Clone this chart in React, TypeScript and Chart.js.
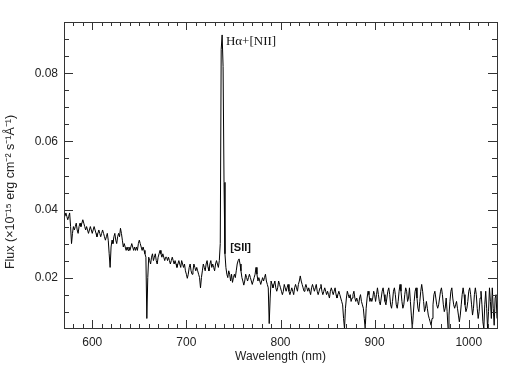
import React, { useEffect, useRef } from "react";
import { Chart, registerables } from "chart.js";

Chart.register(...registerables);

// Wavelength (nm), one sample per nm
const wavelengths = [
  571, 572, 573, 574, 575, 576, 577, 578, 579, 580,
  581, 582, 583, 584, 585, 586, 587, 588, 589, 590,
  591, 592, 593, 594, 595, 596, 597, 598, 599, 600,
  601, 602, 603, 604, 605, 606, 607, 608, 609, 610,
  611, 612, 613, 614, 615, 616, 617, 618, 619, 620,
  621, 622, 623, 624, 625, 626, 627, 628, 629, 630,
  631, 632, 633, 634, 635, 636, 637, 638, 639, 640,
  641, 642, 643, 644, 645, 646, 647, 648, 649, 650,
  651, 652, 653, 654, 655, 656, 657, 658, 659, 660,
  661, 662, 663, 664, 665, 666, 667, 668, 669, 670,
  671, 672, 673, 674, 675, 676, 677, 678, 679, 680,
  681, 682, 683, 684, 685, 686, 687, 688, 689, 690,
  691, 692, 693, 694, 695, 696, 697, 698, 699, 700,
  701, 702, 703, 704, 705, 706, 707, 708, 709, 710,
  711, 712, 713, 714, 715, 716, 717, 718, 719, 720,
  721, 722, 723, 724, 725, 726, 727, 728, 729, 730,
  731, 732, 733, 734, 735, 736, 737, 738, 739, 740,
  741, 742, 743, 744, 745, 746, 747, 748, 749, 750,
  751, 752, 753, 754, 755, 756, 757, 758, 759, 760,
  761, 762, 763, 764, 765, 766, 767, 768, 769, 770,
  771, 772, 773, 774, 775, 776, 777, 778, 779, 780,
  781, 782, 783, 784, 785, 786, 787, 788, 789, 790,
  791, 792, 793, 794, 795, 796, 797, 798, 799, 800,
  801, 802, 803, 804, 805, 806, 807, 808, 809, 810,
  811, 812, 813, 814, 815, 816, 817, 818, 819, 820,
  821, 822, 823, 824, 825, 826, 827, 828, 829, 830,
  831, 832, 833, 834, 835, 836, 837, 838, 839, 840,
  841, 842, 843, 844, 845, 846, 847, 848, 849, 850,
  851, 852, 853, 854, 855, 856, 857, 858, 859, 860,
  861, 862, 863, 864, 865, 866, 867, 868, 869, 870,
  871, 872, 873, 874, 875, 876, 877, 878, 879, 880,
  881, 882, 883, 884, 885, 886, 887, 888, 889, 890,
  891, 892, 893, 894, 895, 896, 897, 898, 899, 900,
  901, 902, 903, 904, 905, 906, 907, 908, 909, 910,
  911, 912, 913, 914, 915, 916, 917, 918, 919, 920,
  921, 922, 923, 924, 925, 926, 927, 928, 929, 930,
  931, 932, 933, 934, 935, 936, 937, 938, 939, 940,
  941, 942, 943, 944, 945, 946, 947, 948, 949, 950,
  951, 952, 953, 954, 955, 956, 957, 958, 959, 960,
  961, 962, 963, 964, 965, 966, 967, 968, 969, 970,
  971, 972, 973, 974, 975, 976, 977, 978, 979, 980,
  981, 982, 983, 984, 985, 986, 987, 988, 989, 990,
  991, 992, 993, 994, 995, 996, 997, 998, 999, 1000,
  1001, 1002, 1003, 1004, 1005, 1006, 1007, 1008, 1009, 1010,
  1011, 1012, 1013, 1014, 1015, 1016, 1017, 1018, 1019, 1020,
  1021, 1022, 1023, 1024, 1025, 1026, 1027, 1028, 1029, 1030,
];

// Flux (x10^-15 erg cm^-2 s^-1 A^-1)
const flux = [
  0.038, 0.039, 0.038, 0.037, 0.038, 0.039, 0.035, 0.030, 0.033, 0.035,
  0.034, 0.035, 0.036, 0.034, 0.033, 0.035, 0.036, 0.035, 0.036, 0.037,
  0.036, 0.035, 0.034, 0.035, 0.034, 0.033, 0.034, 0.035, 0.034, 0.033,
  0.034, 0.035, 0.034, 0.033, 0.032, 0.033, 0.034, 0.033, 0.032, 0.033,
  0.034, 0.033, 0.032, 0.031, 0.032, 0.033, 0.031, 0.027, 0.023, 0.029,
  0.031, 0.030, 0.032, 0.033, 0.031, 0.030, 0.032, 0.033, 0.032, 0.0345,
  0.033, 0.031, 0.029, 0.030, 0.029, 0.028, 0.029, 0.028, 0.029, 0.028,
  0.029, 0.030, 0.029, 0.028, 0.029, 0.028, 0.029, 0.028, 0.030, 0.031,
  0.030, 0.029, 0.028, 0.029, 0.028, 0.027, 0.026, 0.008, 0.020, 0.026,
  0.025, 0.024, 0.026, 0.027, 0.025, 0.026, 0.027, 0.025, 0.024, 0.026,
  0.027, 0.028, 0.027, 0.026, 0.027, 0.026, 0.025, 0.026, 0.026, 0.025,
  0.026, 0.025, 0.024, 0.025, 0.026, 0.025, 0.024, 0.025, 0.024, 0.023,
  0.024, 0.025, 0.024, 0.023, 0.025, 0.024, 0.023, 0.024, 0.022, 0.021,
  0.0198, 0.021, 0.023, 0.024, 0.022, 0.021, 0.022, 0.024, 0.023, 0.022,
  0.023, 0.022, 0.021, 0.020, 0.017, 0.020, 0.022, 0.024, 0.023, 0.022,
  0.024, 0.025, 0.023, 0.022, 0.024, 0.025, 0.023, 0.024, 0.023, 0.022,
  0.024, 0.025, 0.024, 0.023, 0.025, 0.030, 0.087, 0.0913, 0.082, 0.048,
  0.027, 0.023, 0.021, 0.020, 0.022, 0.021, 0.019, 0.021, 0.0186, 0.020,
  0.021, 0.020, 0.022, 0.024, 0.025, 0.0255, 0.024, 0.022, 0.020, 0.019,
  0.0178, 0.019, 0.021, 0.020, 0.019, 0.020, 0.021, 0.020, 0.019, 0.018,
  0.019, 0.020, 0.021, 0.023, 0.021, 0.019, 0.020, 0.019, 0.018, 0.019,
  0.020, 0.019, 0.020, 0.021, 0.019, 0.018, 0.017, 0.0065, 0.014, 0.019,
  0.018, 0.017, 0.018, 0.019, 0.017, 0.016, 0.017, 0.019, 0.018, 0.017,
  0.016, 0.015, 0.016, 0.018, 0.017, 0.016, 0.017, 0.018, 0.016, 0.015,
  0.016, 0.017, 0.016, 0.015, 0.017, 0.018, 0.017, 0.016, 0.018, 0.019,
  0.0205, 0.019, 0.018, 0.017, 0.016, 0.017, 0.018, 0.017, 0.016, 0.017,
  0.016, 0.015, 0.017, 0.018, 0.017, 0.016, 0.017, 0.018, 0.016, 0.015,
  0.016, 0.017, 0.018, 0.016, 0.015, 0.016, 0.017, 0.016, 0.015, 0.016,
  0.015, 0.014, 0.016, 0.017, 0.016, 0.015, 0.016, 0.017, 0.015, 0.014,
  0.015, 0.016, 0.015, 0.014, 0.013, 0.012, 0.008, 0.005, 0.011, 0.014,
  0.016, 0.015, 0.014, 0.015, 0.013, 0.014, 0.015, 0.016, 0.014, 0.013,
  0.014, 0.013, 0.012, 0.014, 0.015, 0.013, 0.012, 0.011, 0.008, 0.005,
  0.011, 0.014, 0.016, 0.015, 0.013, 0.014, 0.013, 0.014, 0.016, 0.015,
  0.013, 0.015, 0.017, 0.015, 0.013, 0.012, 0.014, 0.016, 0.017, 0.015,
  0.013, 0.012, 0.014, 0.016, 0.017, 0.015, 0.012, 0.011, 0.013, 0.016,
  0.017, 0.015, 0.012, 0.011, 0.013, 0.016, 0.018, 0.016, 0.013, 0.011,
  0.012, 0.015, 0.017, 0.016, 0.013, 0.014, 0.017, 0.013, 0.009, 0.005,
  0.009, 0.013, 0.016, 0.017, 0.014, 0.011, 0.010, 0.013, 0.016, 0.018,
  0.016, 0.013, 0.010, 0.011, 0.013, 0.011, 0.009, 0.008, 0.007, 0.006,
  0.008, 0.012, 0.015, 0.016, 0.014, 0.012, 0.011, 0.012, 0.014, 0.016,
  0.017, 0.015, 0.012, 0.010, 0.011, 0.014, 0.010, 0.005, 0.009, 0.013,
  0.016, 0.017, 0.014, 0.012, 0.011, 0.012, 0.013, 0.011, 0.009, 0.007,
  0.009, 0.012, 0.015, 0.017, 0.015, 0.012, 0.010, 0.011, 0.013, 0.016,
  0.017, 0.015, 0.012, 0.009, 0.011, 0.015, 0.017, 0.015, 0.011, 0.008,
  0.010, 0.014, 0.016, 0.012, 0.007, 0.005, 0.012, 0.016, 0.011, 0.005,
  0.010, 0.017, 0.013, 0.008, 0.017, 0.011, 0.006, 0.014, 0.015, 0.008,
];

const xTickValues = [600, 700, 800, 900, 1000];
const yTickValues = [0.02, 0.04, 0.06, 0.08];
const xRange = [570, 1030];
const yRange = [0.0052, 0.0951];

const yTitle = "Flux (\u00d710\u207b\u00b9\u2075 erg cm\u207b\u00b2 s\u207b\u00b9\u00c5\u207b\u00b9)";

const annotations = [
  { text: "H\u03b1+[NII]", x: 742, y: 0.0893, font: "13px 'Liberation Serif'" },
  { text: "[SII]", x: 746.5, y: 0.0287, font: "bold 11px 'Liberation Sans'" },
];

const frameAndTicks = {
  id: "frameAndTicks",
  afterDatasetsDraw(chart: any) {
    const { ctx, chartArea: a, scales } = chart;
    const xs = scales.x;
    const ys = scales.y;
    ctx.save();
    ctx.strokeStyle = "#333";
    ctx.lineWidth = 1;
    ctx.beginPath();
    for (let v = 580; v <= 1030; v += 10) {
      const px = Math.round(xs.getPixelForValue(v)) + 0.5;
      const len = v % 100 === 0 ? 8 : 4;
      ctx.moveTo(px, a.bottom);
      ctx.lineTo(px, a.bottom - len);
      ctx.moveTo(px, a.top);
      ctx.lineTo(px, a.top + len);
    }
    for (let i = 2; i <= 19; i++) {
      const v = i * 0.005;
      const py = Math.round(ys.getPixelForValue(v)) + 0.5;
      const len = i % 4 === 0 ? 9 : 5;
      ctx.moveTo(a.left, py);
      ctx.lineTo(a.left + len, py);
      ctx.moveTo(a.right, py);
      ctx.lineTo(a.right - len, py);
    }
    ctx.stroke();
    ctx.strokeRect(Math.round(a.left) + 0.5, Math.round(a.top) + 0.5, Math.round(a.right - a.left), Math.round(a.bottom - a.top));
    ctx.fillStyle = "#111";
    ctx.textBaseline = "middle";
    ctx.textAlign = "left";
    for (const an of annotations) {
      ctx.font = an.font;
      ctx.fillText(an.text, xs.getPixelForValue(an.x), ys.getPixelForValue(an.y));
    }
    // y-axis title
    ctx.save();
    ctx.translate(11, 192);
    ctx.rotate(-Math.PI / 2);
    ctx.textAlign = "center";
    ctx.fillStyle = "#222";
    ctx.font = "12.5px 'Liberation Sans'";
    ctx.fillText(yTitle, 0, 0);
    ctx.restore();
    ctx.restore();
  },
};

export default function App() {
  const ref = useRef<HTMLCanvasElement>(null);
  useEffect(() => {
    if (!ref.current) return;
    const chart = new Chart(ref.current, {
      type: "line",
      data: {
        datasets: [
          {
            data: wavelengths.map((w, i) => ({ x: w, y: flux[i] })),
            borderColor: "#000",
            borderWidth: 1,
            pointRadius: 0,
            tension: 0,
            fill: false,
          },
        ],
      },
      options: {
        animation: false,
        responsive: false,
        devicePixelRatio: 1,
        layout: { padding: { top: 22, right: 21, left: 0, bottom: 0 } },
        plugins: { legend: { display: false }, tooltip: { enabled: false } },
        scales: {
          x: {
            type: "linear",
            min: xRange[0],
            max: xRange[1],
            grid: { display: false, drawTicks: false },
            border: { display: false },
            afterBuildTicks: (s: any) => {
              s.ticks = xTickValues.map((v) => ({ value: v }));
            },
            afterFit: (s: any) => {
              s.height = 42;
            },
            ticks: {
              padding: 7,
              color: "#222",
              font: { family: "'Liberation Sans'", size: 12 },
              callback: (v: any) => String(v),
              maxRotation: 0,
            },
            title: {
              display: true,
              text: "Wavelength (nm)",
              color: "#222",
              font: { family: "'Liberation Sans'", size: 12 },
              padding: { top: 0, bottom: 6 },
            },
          },
          y: {
            type: "linear",
            min: yRange[0],
            max: yRange[1],
            grid: { display: false, drawTicks: false },
            border: { display: false },
            afterBuildTicks: (s: any) => {
              s.ticks = yTickValues.map((v) => ({ value: v }));
            },
            afterFit: (s: any) => {
              s.width = 64;
            },
            ticks: {
              padding: 6,
              color: "#222",
              font: { family: "'Liberation Sans'", size: 12 },
              callback: (v: any) => Number(v).toFixed(2),
            },
          },
        },
      },
      plugins: [frameAndTicks],
    });
    return () => chart.destroy();
  }, []);
  return (
    <div style={{ position: "fixed", left: 0, top: 0, width: 518, height: 370, background: "#fff" }}>
      <canvas ref={ref} width={518} height={370} style={{ width: 518, height: 370, display: "block" }} />
    </div>
  );
}
